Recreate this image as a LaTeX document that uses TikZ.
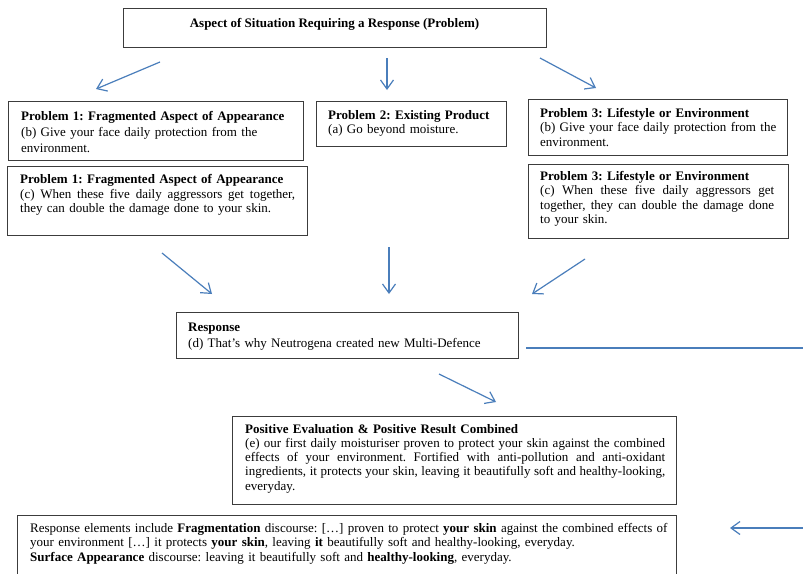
\documentclass[tikz,border=0pt]{standalone}
\usepackage{fontspec}
\setmainfont{Liberation Serif}
\usetikzlibrary{arrows.meta}

\definecolor{arrowblue}{RGB}{74,126,187}
\definecolor{framegray}{RGB}{60,60,60}

% one line stretched to the full text width (justified), and one at natural width
\newcommand{\fillline}[1]{\noindent\hbox to \linewidth{\spaceskip=0.25em plus 0.6em minus 0.15em #1}\par}
\newcommand{\plainline}[1]{\noindent\hbox{#1}\par}

\begin{document}
\frenchspacing
\begin{tikzpicture}[x=1pt,y=-1pt,
  frame/.style={draw=framegray, line width=1pt, rectangle, inner sep=0pt, anchor=north west},
  body/.style={inner sep=0pt, anchor=base west, align=left,
               font=\fontsize{13}{14.5}\selectfont},
  flow/.style={draw=arrowblue, line width=1.2pt,
               -{Straight Barb[length=9pt,width=13pt,line width=1.2pt]}},
  plainflow/.style={draw=arrowblue, line width=1.2pt}
]
\useasboundingbox (0,0) rectangle (803,573);
\fill[white] (0,0) rectangle (803,573);
\clip (0,0) rectangle (803,573);

% ---- heading box
\node[frame, minimum width=423, minimum height=39] (top) at (123,8) {};
\node[body, anchor=base, font=\fontsize{13}{14.5}\selectfont\bfseries] (toptext) at (334.5,27)
  {Aspect of Situation Requiring a Response (Problem)};

% ---- first row of problems
\node[frame, minimum width=295, minimum height=59] (p1b) at (8,101) {};
\node[body, text width=275, font=\fontsize{13}{16}\selectfont] (p1btext) at (21,120) {%
  \plainline{\textbf{Problem 1: Fragmented Aspect of Appearance}}%
  \plainline{(b) Give your face daily protection from the}%
  \plainline{environment.}};

\node[frame, minimum width=190, minimum height=45] (p2) at (316,101) {};
\node[body, text width=170] (p2text) at (328,119) {%
  \plainline{\textbf{Problem 2: Existing Product}}%
  \plainline{(a) Go beyond moisture.}};

\node[frame, minimum width=259, minimum height=56] (p3b) at (528,99) {};
\node[body, text width=240] (p3btext) at (540,117) {%
  \plainline{\textbf{Problem 3: Lifestyle or Environment}}%
  \plainline{(b) Give your face daily protection from the}%
  \plainline{environment.}};

% ---- second row of problems
\node[frame, minimum width=300, minimum height=69] (p1c) at (7,166) {};
\node[body, text width=275] (p1ctext) at (20,183.5) {%
  \plainline{\textbf{Problem 1: Fragmented Aspect of Appearance}}%
  \fillline{(c) When these five daily aggressors get together,}%
  \plainline{they can double the damage done to your skin.}};

\node[frame, minimum width=260, minimum height=74] (p3c) at (528,164) {};
\node[body, text width=234] (p3ctext) at (540,180) {%
  \plainline{\textbf{Problem 3: Lifestyle or Environment}}%
  \fillline{(c) When these five daily aggressors get}%
  \fillline{together, they can double the damage done}%
  \plainline{to your skin.}};

% ---- response
\node[frame, minimum width=342, minimum height=46] (resp) at (176,312) {};
\node[body, text width=320, font=\fontsize{13}{16}\selectfont] (resptext) at (188,331) {%
  \plainline{\textbf{Response}}%
  \plainline{(d) That’s why Neutrogena created new Multi-Defence}};

% ---- positive evaluation
\node[frame, minimum width=444, minimum height=88] (pos) at (232,416) {};
\node[body, text width=420, font=\fontsize{13}{14.25}\selectfont] (postext) at (245,433) {%
  \plainline{\textbf{Positive Evaluation \& Positive Result Combined}}%
  \fillline{(e) our first daily moisturiser proven to protect your skin against the combined}%
  \fillline{effects of your environment. Fortified with anti-pollution and anti-oxidant}%
  \fillline{ingredients, it protects your skin, leaving it beautifully soft and healthy-looking,}%
  \plainline{everyday.}};

% ---- discourse summary (runs past the lower edge)
\node[frame, minimum width=659, minimum height=80] (summary) at (17,515) {};
\node[body, text width=640] (summarytext) at (30,532) {%
  \plainline{Response elements include \textbf{Fragmentation} discourse: […] proven to protect \textbf{your skin} against the combined effects of}%
  \plainline{your environment […] it protects \textbf{your skin}, leaving \textbf{it} beautifully soft and healthy-looking, everyday.}%
  \plainline{\textbf{Surface Appearance} discourse: leaving it beautifully soft and \textbf{healthy-looking}, everyday.}};

% ---- arrows
\coordinate (a1s) at (160,62);  \coordinate (a1e) at (96,89);
\coordinate (a2s) at (387,58);  \coordinate (a2e) at (387,90);
\coordinate (a3s) at (540,58);  \coordinate (a3e) at (596,88);
\coordinate (a4s) at (162,253); \coordinate (a4e) at (212,294);
\coordinate (a5s) at (389,247); \coordinate (a5e) at (389,294);
\coordinate (a6s) at (585,259); \coordinate (a6e) at (532,294);
\coordinate (a7s) at (439,374); \coordinate (a7e) at (496,402);
\coordinate (ls)  at (526,348); \coordinate (le)  at (803,348);
\coordinate (a8s) at (803,528); \coordinate (a8e) at (730,528);

\draw[flow] (a1s) -- (a1e);
\draw[flow] (a2s) -- (a2e);
\draw[flow] (a3s) -- (a3e);
\draw[flow] (a4s) -- (a4e);
\draw[flow] (a5s) -- (a5e);
\draw[flow] (a6s) -- (a6e);
\draw[flow] (a7s) -- (a7e);
\draw[plainflow] (ls) -- (le);
\draw[flow] (a8s) -- (a8e);
\end{tikzpicture}
\end{document}
